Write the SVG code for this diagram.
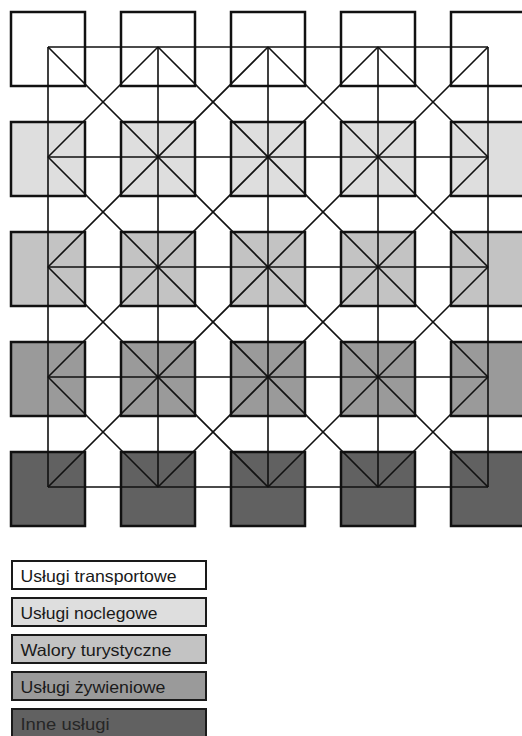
<svg xmlns="http://www.w3.org/2000/svg" width="522" height="736" viewBox="0 0 522 736">
<style>
.sq{stroke:#111;stroke-width:2.5}
.r1{fill:#ffffff}.r2{fill:#dedede}.r3{fill:#c3c3c3}.r4{fill:#9a9a9a}.r5{fill:#616161}
.ln{fill:none;stroke:#111;stroke-width:1.6}
.lg{stroke:#1a1a1a;stroke-width:2}
.lt{font-family:"Liberation Sans",Arial,sans-serif;font-size:16.5px;fill:#1a1a1a}
</style>
<rect width="522" height="736" fill="#ffffff"/>
<g id="squares">
<g id="r1c1"><rect class="sq r1" x="11" y="12" width="74" height="74"/></g>
<g id="r1c2"><rect class="sq r1" x="121" y="12" width="74" height="74"/></g>
<g id="r1c3"><rect class="sq r1" x="231" y="12" width="74" height="74"/></g>
<g id="r1c4"><rect class="sq r1" x="341" y="12" width="74" height="74"/></g>
<g id="r1c5"><rect class="sq r1" x="451" y="12" width="74" height="74"/></g>
<g id="r2c1"><rect class="sq r2" x="11" y="122" width="74" height="74"/></g>
<g id="r2c2"><rect class="sq r2" x="121" y="122" width="74" height="74"/></g>
<g id="r2c3"><rect class="sq r2" x="231" y="122" width="74" height="74"/></g>
<g id="r2c4"><rect class="sq r2" x="341" y="122" width="74" height="74"/></g>
<g id="r2c5"><rect class="sq r2" x="451" y="122" width="74" height="74"/></g>
<g id="r3c1"><rect class="sq r3" x="11" y="232" width="74" height="74"/></g>
<g id="r3c2"><rect class="sq r3" x="121" y="232" width="74" height="74"/></g>
<g id="r3c3"><rect class="sq r3" x="231" y="232" width="74" height="74"/></g>
<g id="r3c4"><rect class="sq r3" x="341" y="232" width="74" height="74"/></g>
<g id="r3c5"><rect class="sq r3" x="451" y="232" width="74" height="74"/></g>
<g id="r4c1"><rect class="sq r4" x="11" y="342" width="74" height="74"/></g>
<g id="r4c2"><rect class="sq r4" x="121" y="342" width="74" height="74"/></g>
<g id="r4c3"><rect class="sq r4" x="231" y="342" width="74" height="74"/></g>
<g id="r4c4"><rect class="sq r4" x="341" y="342" width="74" height="74"/></g>
<g id="r4c5"><rect class="sq r4" x="451" y="342" width="74" height="74"/></g>
<g id="r5c1"><rect class="sq r5" x="11" y="452" width="74" height="74"/></g>
<g id="r5c2"><rect class="sq r5" x="121" y="452" width="74" height="74"/></g>
<g id="r5c3"><rect class="sq r5" x="231" y="452" width="74" height="74"/></g>
<g id="r5c4"><rect class="sq r5" x="341" y="452" width="74" height="74"/></g>
<g id="r5c5"><rect class="sq r5" x="451" y="452" width="74" height="74"/></g>
</g>
<g id="connectors" class="ln">
<path d="M48 47H488M48 157H488M48 267H488M48 377H488M48 487H488"/>
<path d="M48 47V487M158 47V487M268 47V487M378 47V487M488 47V487"/>
<path d="M48 47L488 487M158 47L488 377M268 47L488 267M378 47L488 157M48 157L378 487M48 267L268 487M48 377L158 487"/>
<path d="M488 47L48 487M378 47L48 377M268 47L48 267M158 47L48 157M488 157L158 487M488 267L268 487M488 377L378 487"/>
</g>
<g id="legend-transport"><rect class="lg r1" x="12" y="561" width="194" height="28"/><text class="lt" x="20.5" y="582" textLength="156" lengthAdjust="spacingAndGlyphs">Usługi transportowe</text></g>
<g id="legend-nocleg"><rect class="lg r2" x="12" y="598" width="194" height="28"/><text class="lt" x="20.5" y="619" textLength="137" lengthAdjust="spacingAndGlyphs">Usługi noclegowe</text></g>
<g id="legend-walory"><rect class="lg r3" x="12" y="635" width="194" height="28"/><text class="lt" x="20.5" y="656" textLength="151" lengthAdjust="spacingAndGlyphs">Walory turystyczne</text></g>
<g id="legend-zywienie"><rect class="lg r4" x="12" y="672" width="194" height="28"/><text class="lt" x="20.5" y="693" textLength="145" lengthAdjust="spacingAndGlyphs">Usługi żywieniowe</text></g>
<g id="legend-inne"><rect class="lg r5" x="12" y="709" width="194" height="28"/><text class="lt" x="20.5" y="730" textLength="89" lengthAdjust="spacingAndGlyphs" style="fill:#262626">Inne usługi</text></g>
</svg>
